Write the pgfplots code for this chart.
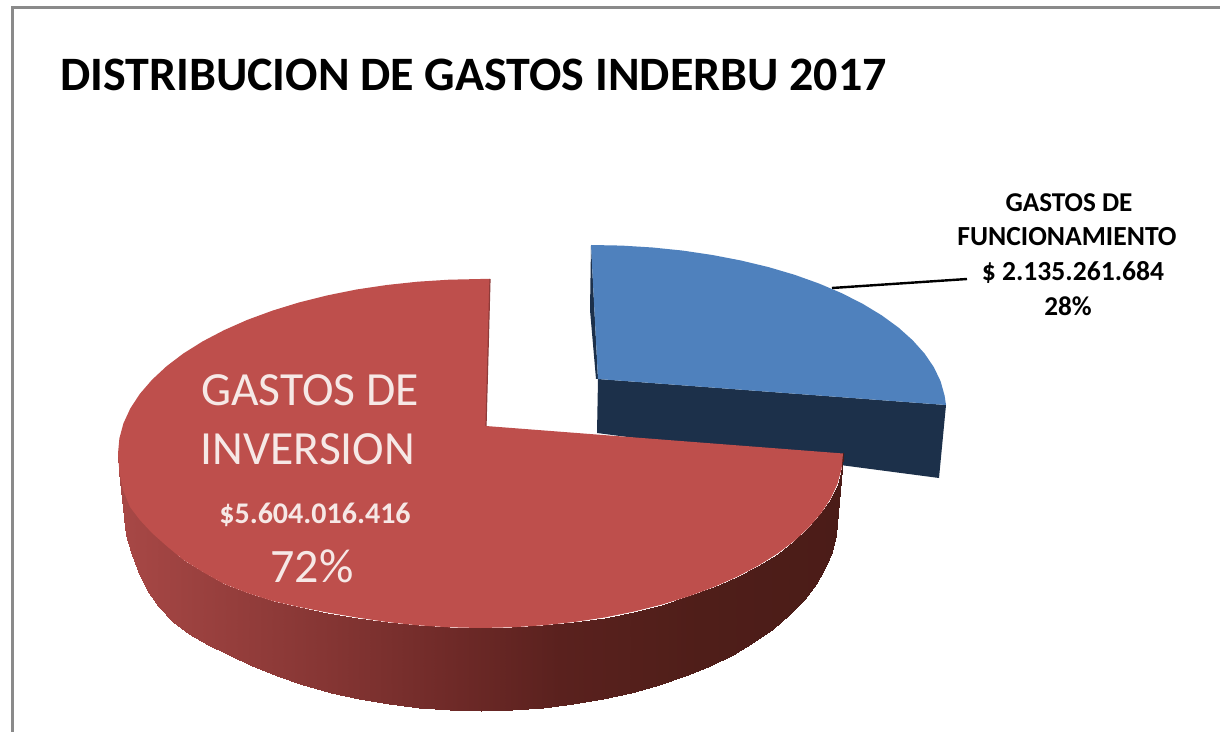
\documentclass[border=0pt]{standalone}
\usepackage{fontspec}
\setmainfont{Carlito}
\usepackage{pgfplots}
\pgfplotsset{compat=1.18}

\definecolor{redtop}{HTML}{BE4F4C}
\definecolor{bluetop}{HTML}{4F81BD}
\definecolor{bluewall}{HTML}{1C304A}
\definecolor{frame}{HTML}{8A8A8A}
\definecolor{pale}{HTML}{F6E8E6}

\begin{document}
\begin{tikzpicture}
\begin{axis}[
    scale only axis, width=610pt, height=366pt,
    xmin=0, xmax=1220, ymin=0, ymax=732,
    y dir=reverse, hide axis,
    colormap={wall}{rgb255(118pt)=(168,72,70); rgb255(300pt)=(138,56,54); rgb255(450pt)=(111,42,40); rgb255(560pt)=(90,33,30); rgb255(700pt)=(79,30,25); rgb255(843pt)=(75,28,24)},
]
% keeps the whole page, hide axis drops the rectangle from the box
\path (axis cs:0,0) rectangle (axis cs:1220,732);

% frame of the picture
\addplot[frame, line width=1.5pt] coordinates {(12,732) (12,8) (1220,8)};

% blue slice
\addplot[fill=bluewall, draw=none] coordinates {(598,379) (946,405) (939,478) (597,433)} -- cycle;
\addplot[fill=bluewall, draw=none] coordinates {(591,245) (598,379) (596,379) (590,310)} -- cycle;
\addplot[fill=bluetop, draw=none] coordinates {
    (591,245) (621.9,245.6) (652.6,247.5) (682.9,250.6) (712.4,255) (741,260.5)
    (768.5,267.1) (794.6,274.8) (819.2,283.6) (842,293.3) (863,304) (881.8,315.4)
    (898.4,327.5) (912.7,340.3) (924.6,353.6) (933.9,367.3) (940.6,381.3) (944.6,395.6)
    (946,405) (598,379)} -- cycle;

% red wall, top edge and bottom edge
\addplot[surf, shader=interp, mesh/rows=37, mesh/cols=2, point meta=x] table {
x y
843 453.5
837 518.5
841.6 468.7
835.6 535.3
837.5 483.8
831.6 551.9
830.6 498.7
824.9 568.3
821.1 513.2
815.5 584.3
809 527.2
803.6 599.9
794.4 540.8
789.3 614.8
777.5 553.6
772.6 628.9
758.2 565.7
753.7 642.2
736.8 576.9
732.7 654.6
713.5 587.2
709.8 666
688.4 596.4
685.2 676.2
661.8 604.6
659 685.2
633.7 611.6
631.4 693
604.5 617.5
602.8 699.4
574.3 622
573.1 704.4
543.4 625.3
542.8 708.1
512.1 627.3
512 710.3
480.5 628
481 711
448.9 627.3
450 710.3
417.6 625.3
419.2 708.1
386.7 622
388.9 704.4
356.5 617.5
359.2 699.4
327.3 612.5
330.6 693
299.2 607
303 685.2
272.6 601
276.8 676.2
247.5 593
252.2 666
224.2 584
229.3 655
202.8 572
208.3 645
183.5 560
189.4 634
166.6 546
172.7 622
152 533
158.4 606
139.9 520
147 590
130 507
138 571
123 490
131 552
119.4 472
126.4 535.3
118 453.5
124 518.5
};

% red top
\addplot[fill=redtop, draw=none] coordinates {
    (486,426) (843,453.5) (841.6,468.7) (837.5,483.8) (830.6,498.7) (821.1,513.2) (809,527.2)
    (794.4,540.8) (777.5,553.6) (758.2,565.7) (736.8,576.9) (713.5,587.2) (688.4,596.4)
    (661.8,604.6) (633.7,611.6) (604.5,617.5) (574.3,622) (543.4,625.3) (512.1,627.3)
    (480.5,628) (448.9,627.3) (417.6,625.3) (386.7,622) (356.5,617.5) (327.3,612.5)
    (299.2,607) (272.6,601) (247.5,593) (224.2,584) (202.8,572) (183.5,560)
    (166.6,546) (152,533) (139.9,520) (130,507) (123,490) (119.4,472)
    (118,453.5) (119.4,438.3) (123.5,423.2) (130.4,408.3) (139.9,393.8) (152,379.8)
    (166.6,366.2) (183.5,353.4) (202.8,341.3) (224.2,330.1) (247.5,319.8) (272.6,310.6)
    (299.2,302.4) (327.3,295.4) (356.5,289.5) (386.7,285) (417.6,281.7) (448.9,279.7)
    (480.5,279) (490,279)} -- cycle;
\addplot[color=redtop!75!black, line width=0.6pt] coordinates {(490,279) (486,426)};

% leader line
\addplot[black, line width=1.2pt] coordinates {(832,288) (967,279)};

\node[anchor=base, font=\fontsize{24}{24}\selectfont\bfseries] at (axis cs:473.5,90.5) {DISTRIBUCION DE GASTOS INDERBU 2017};

\node[anchor=base, font=\fontsize{13.6}{14}\selectfont\bfseries] at (axis cs:1069,212) {GASTOS DE};
\node[anchor=base, font=\fontsize{13.8}{14}\selectfont\bfseries] at (axis cs:1067,246) {FUNCIONAMIENTO};
\node[anchor=base, font=\fontsize{13.8}{14}\selectfont\bfseries] at (axis cs:1073,281) {\$ 2.135.261.684};
\node[anchor=base, font=\fontsize{13.6}{14}\selectfont\bfseries] at (axis cs:1068,316) {28\%};

\node[anchor=base, text=pale, font=\fontsize{23.8}{24}\selectfont] at (axis cs:310,406) {GASTOS DE};
\node[anchor=base, text=pale, font=\fontsize{23.8}{24}\selectfont] at (axis cs:308,464) {INVERSION};
\node[anchor=base, text=pale, font=\fontsize{15}{15}\selectfont\bfseries] at (axis cs:315,523) {\$5.604.016.416};
\node[anchor=base, text=pale, font=\fontsize{24}{24}\selectfont] at (axis cs:312,582) {72\%};
\end{axis}
\end{tikzpicture}
\end{document}
